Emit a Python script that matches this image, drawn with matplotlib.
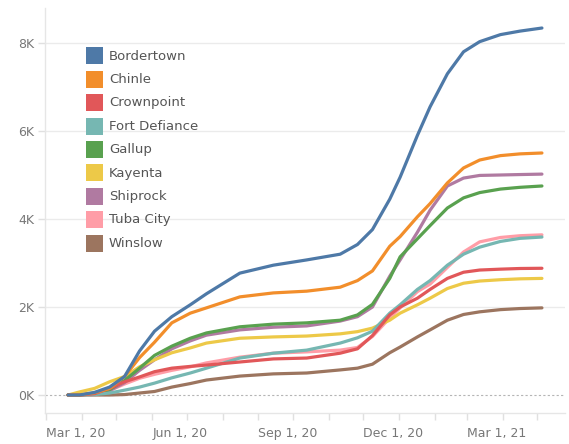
import matplotlib
matplotlib.use("Agg")
import matplotlib.pyplot as plt
import matplotlib.dates as mdates
import pandas as pd
from matplotlib.patches import Rectangle

dates = pd.to_datetime([
    "2020-03-20", "2020-03-30", "2020-04-12", "2020-04-25", "2020-05-08", "2020-05-21",
    "2020-06-03", "2020-06-18", "2020-07-04", "2020-07-18", "2020-08-16", "2020-09-14",
    "2020-10-13", "2020-11-11", "2020-11-26", "2020-12-09", "2020-12-24", "2021-01-02",
    "2021-01-17", "2021-01-28", "2021-02-12", "2021-02-26", "2021-03-12", "2021-03-30",
    "2021-04-16", "2021-05-05"])

bordertown = [0, 0, 60, 180, 420, 1000, 1450, 1780, 2050, 2300, 2770, 2950, 3070, 3200,
              3420, 3760, 4450, 4950, 5900, 6550, 7300, 7800, 8030, 8190, 8270, 8340]
chinle = [0, 0, 50, 150, 420, 850, 1200, 1640, 1860, 1980, 2230, 2320, 2360, 2450,
          2600, 2820, 3380, 3600, 4050, 4350, 4820, 5160, 5340, 5440, 5480, 5500]
crownpoint = [0, 0, 30, 150, 300, 410, 530, 610, 650, 680, 750, 820, 840, 950,
              1050, 1350, 1820, 2000, 2200, 2400, 2650, 2790, 2840, 2860, 2875, 2880]
fort_defiance = [0, 0, 10, 45, 110, 180, 270, 390, 500, 610, 840, 950, 1020, 1180,
                 1300, 1450, 1860, 2050, 2400, 2600, 2950, 3200, 3360, 3490, 3560, 3590]
gallup = [0, 0, 30, 120, 330, 610, 900, 1110, 1290, 1410, 1550, 1610, 1640, 1700,
          1820, 2060, 2650, 3140, 3550, 3850, 4250, 4480, 4600, 4680, 4720, 4750]
kayenta = [0, 70, 150, 300, 420, 640, 800, 960, 1070, 1180, 1290, 1320, 1340, 1390,
           1440, 1520, 1700, 1860, 2050, 2200, 2420, 2540, 2590, 2620, 2640, 2650]
shiprock = [0, 0, 30, 100, 280, 560, 800, 1050, 1230, 1360, 1480, 1540, 1570, 1680,
            1780, 2000, 2700, 3070, 3700, 4200, 4750, 4930, 4990, 5000, 5010, 5020]
tuba_city = [0, 0, 20, 100, 250, 380, 470, 560, 640, 730, 860, 950, 980, 1020,
             1080, 1330, 1750, 1980, 2350, 2520, 2900, 3250, 3480, 3580, 3620, 3640]
winslow = [0, 0, 0, 0, 10, 45, 80, 180, 260, 340, 430, 480, 500, 570,
           610, 700, 960, 1090, 1320, 1480, 1700, 1830, 1890, 1940, 1965, 1980]

names = ["Bordertown", "Chinle", "Crownpoint", "Fort Defiance", "Gallup",
         "Kayenta", "Shiprock", "Tuba City", "Winslow"]
series = [bordertown, chinle, crownpoint, fort_defiance, gallup,
          kayenta, shiprock, tuba_city, winslow]
colors = ["#4E79A7", "#F28E2B", "#E15759", "#76B7B2", "#59A14F",
          "#EDC948", "#B07AA1", "#FF9DA7", "#9C755F"]

W, H = 569, 444
fig = plt.figure(figsize=(W / 100, H / 100), dpi=100)
L, R, T, B = 45, 565, 8, 413
ax = fig.add_axes([L / W, 1 - B / H, (R - L) / W, (B - T) / H])

n = len(names)
for i, (nm, vals, c) in enumerate(zip(names, series, colors)):
    ax.plot(dates, vals, color=c, lw=2.3, solid_capstyle="round",
            solid_joinstyle="round", zorder=10 + n - i)

ax.set_ylim(-409, 8795)
ax.set_xlim(pd.Timestamp("2020-02-29"), pd.Timestamp("2021-05-25"))

yt = [0, 2000, 4000, 6000, 8000]
ax.set_yticks(yt)
ax.set_yticklabels([f"{v // 1000}K" for v in yt])
for v in yt[1:]:
    ax.axhline(v, color="#ebebeb", lw=1, zorder=1)
ax.axhline(0, color="#b5b5b5", lw=0.8, ls=(0, (2, 2)), zorder=2)

xt = pd.to_datetime(["2020-03-01", "2020-06-01", "2020-09-01", "2020-12-01", "2021-03-01"])
xt_labels = ["Mar 1, 20", "Jun 1, 20", "Sep 1, 20", "Dec 1, 20", "Mar 1, 21"]
ax.set_xticks(xt)
ax.set_xticklabels(xt_labels, ha="left")
ax.xaxis.set_minor_locator(mdates.MonthLocator())

for s in ["top", "right"]:
    ax.spines[s].set_visible(False)
for s in ["left", "bottom"]:
    ax.spines[s].set_color("#e6e6e6")
    ax.spines[s].set_linewidth(1)

ax.tick_params(axis="both", which="both", colors="#e0e0e0", labelcolor="#777777",
               labelsize=9)
ax.tick_params(axis="x", which="both", length=5, width=1, pad=5)
ax.tick_params(axis="y", length=5, width=1, pad=3)
for lab in ax.get_xticklabels():
    lab.set_horizontalalignment("left")
    lab.set_x(lab.get_position()[0])

# legend (manual)
row0, step = 56, 23.4
for i, (nm, c) in enumerate(zip(names, colors)):
    yc = row0 + i * step
    fig.patches.append(Rectangle((86 / W, 1 - (yc + 8.5) / H), 17 / W, 17 / H,
                                 transform=fig.transFigure, facecolor=c,
                                 edgecolor="none", zorder=30))
    fig.text(109 / W, 1 - yc / H, nm, ha="left", va="center", fontsize=9.5,
             color="#555555", zorder=31)

fig.savefig("out.png", dpi=100)
